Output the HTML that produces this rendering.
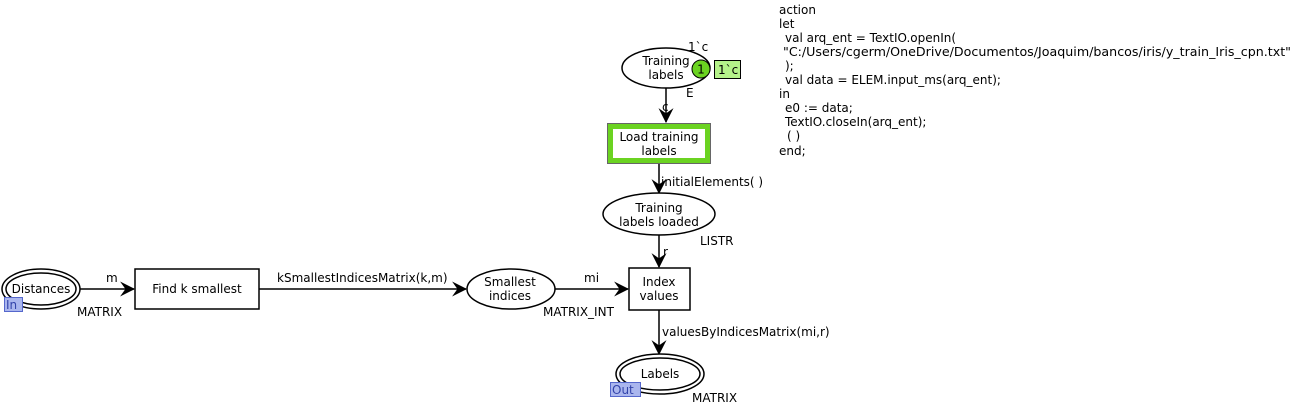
<!DOCTYPE html>
<html><head><meta charset="utf-8"><style>
html,body{margin:0;padding:0;background:#fff;}
svg{display:block;}
text{font-family:"DejaVu Sans","Liberation Sans",sans-serif;font-size:12px;fill:#000;}
</style></head><body>
<svg width="1306" height="410" viewBox="0 0 1306 410" xmlns="http://www.w3.org/2000/svg">
<defs><marker id="a" viewBox="0 0 14 14" refX="13" refY="7" markerWidth="15" markerHeight="15" markerUnits="userSpaceOnUse" orient="auto"><path d="M0,0 L14,7 L0,14 L5,7 Z" fill="#000"/></marker></defs>
<g stroke="#000" stroke-width="1.5" fill="none">
<ellipse cx="666" cy="68" rx="44" ry="20" fill="#fff"/>
<line x1="666" y1="88" x2="666" y2="122" marker-end="url(#a)"/>
<line x1="659" y1="164" x2="659" y2="193" marker-end="url(#a)"/>
<ellipse cx="659" cy="214" rx="56" ry="21" fill="#fff"/>
<line x1="659" y1="235" x2="659" y2="267" marker-end="url(#a)"/>
<rect x="629" y="268" width="61" height="42" fill="#fff"/>
<ellipse cx="41" cy="289" rx="39" ry="20" fill="#fff"/>
<ellipse cx="41" cy="289" rx="35" ry="16"/>
<line x1="80" y1="289" x2="134" y2="289" marker-end="url(#a)"/>
<rect x="135" y="269" width="124" height="40" fill="#fff"/>
<line x1="259" y1="289" x2="466" y2="289" marker-end="url(#a)"/>
<ellipse cx="511" cy="289" rx="44" ry="20" fill="#fff"/>
<line x1="555" y1="289" x2="628" y2="289" marker-end="url(#a)"/>
<line x1="659" y1="310" x2="659" y2="354" marker-end="url(#a)"/>
<ellipse cx="660" cy="374" rx="44" ry="20" fill="#fff"/>
<ellipse cx="660" cy="374" rx="40" ry="16"/>
</g>
<rect x="607.5" y="123.5" width="103" height="40" fill="#6bd321" stroke="#666" stroke-width="1"/>
<rect x="613" y="129" width="92" height="29" fill="#fff"/>
<circle cx="701" cy="69" r="9" fill="#6bd321" stroke="#000" stroke-width="1"/>
<text x="701" y="73.5" text-anchor="middle">1</text>
<rect x="714.5" y="60.5" width="26" height="18" fill="#b5f28a" stroke="#000" stroke-width="1"/>
<text x="718" y="74">1`c</text>
<rect x="4.5" y="297.5" width="18" height="14" fill="#aab6ee" stroke="#5567cc" stroke-width="1"/>
<text x="6" y="309" style="fill:#3344aa">In</text>
<rect x="610.5" y="382.5" width="30" height="14" fill="#aab6ee" stroke="#5567cc" stroke-width="1"/>
<text x="612" y="394" style="fill:#3344aa">Out</text>
<g text-anchor="middle">
<text x="666" y="65">Training</text><text x="666" y="79">labels</text>
<text x="659" y="141">Load training</text><text x="659" y="155">labels</text>
<text x="659" y="212">Training</text><text x="659" y="226">labels loaded</text>
<text x="659" y="286">Index</text><text x="659" y="300">values</text>
<text x="41" y="293">Distances</text>
<text x="197" y="293">Find k smallest</text>
<text x="510" y="286">Smallest</text><text x="510" y="300">indices</text>
<text x="660" y="378">Labels</text>
</g>
<text x="688" y="51">1`c</text>
<text x="686" y="97">E</text>
<text x="662" y="111">c</text>
<text x="661" y="186">initialElements( )</text>
<text x="700" y="245">LISTR</text>
<text x="663" y="256">r</text>
<text x="106" y="282">m</text>
<text x="77" y="316">MATRIX</text>
<text x="277" y="282">kSmallestIndicesMatrix(k,m)</text>
<text x="584" y="282">mi</text>
<text x="543" y="316">MATRIX_INT</text>
<text x="662" y="336">valuesByIndicesMatrix(mi,r)</text>
<text x="692" y="402">MATRIX</text>
<text x="779" y="14">action</text>
<text x="779" y="28">let</text>
<text x="785" y="42">val arq_ent = TextIO.openIn(</text>
<text x="783" y="56" textLength="508" lengthAdjust="spacingAndGlyphs">"C:/Users/cgerm/OneDrive/Documentos/Joaquim/bancos/iris/y_train_Iris_cpn.txt"</text>
<text x="785" y="70">);</text>
<text x="785" y="84">val data = ELEM.input_ms(arq_ent);</text>
<text x="779" y="98">in</text>
<text x="785" y="112">e0 := data;</text>
<text x="785" y="126">TextIO.closeIn(arq_ent);</text>
<text x="787" y="140">( )</text>
<text x="779" y="155">end;</text>
</svg>
</body></html>
